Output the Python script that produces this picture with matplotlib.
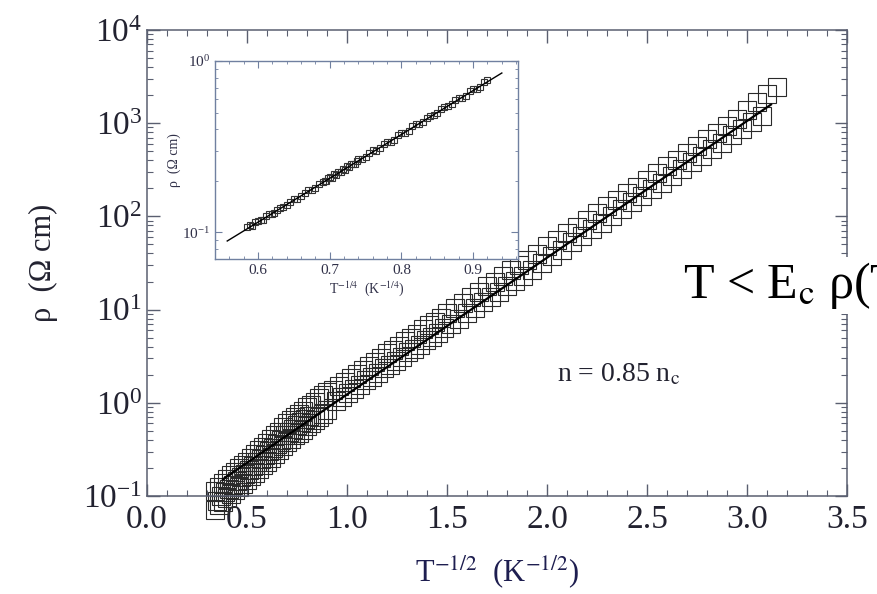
import matplotlib
matplotlib.use("Agg")
import matplotlib.pyplot as plt
from matplotlib.ticker import MultipleLocator, LogLocator, NullFormatter
import numpy as np

plt.rcParams['font.family'] = ['Liberation Serif', 'DejaVu Serif']
plt.rcParams['mathtext.fontset'] = 'stix'

# main panel: rho vs T^-1/2, two overlapping runs of open squares
low_x = [0.34, 0.36, 0.38, 0.40, 0.42, 0.44, 0.46, 0.48, 0.50, 0.52, 0.54, 0.56, 0.58, 0.60, 0.62,
         0.64, 0.66, 0.68, 0.70, 0.72, 0.74, 0.76, 0.78, 0.80, 0.82, 0.84, 0.86, 0.88, 0.90]
low_up = [-0.95, -0.90, -0.86, -0.82, -0.78, -0.74, -0.70, -0.67, -0.63, -0.59, -0.55, -0.51, -0.47, -0.43, -0.39,
          -0.35, -0.31, -0.26, -0.22, -0.19, -0.15, -0.12, -0.09, -0.05, -0.02, 0.01, 0.05, 0.08, 0.12]
low_dn = [-1.15, -1.10, -1.06, -1.02, -0.98, -0.94, -0.90, -0.87, -0.83, -0.79, -0.75, -0.71, -0.67, -0.63, -0.59,
          -0.55, -0.51, -0.46, -0.42, -0.39, -0.35, -0.32, -0.29, -0.25, -0.22, -0.19, -0.15, -0.12, -0.08]
mid_x = [0.35, 0.37, 0.39, 0.41, 0.43, 0.45, 0.47, 0.49, 0.51, 0.53, 0.55, 0.57, 0.59, 0.61, 0.63,
         0.65, 0.67, 0.69, 0.71, 0.73, 0.75, 0.77, 0.79, 0.81]
mid_log = [-1.05, -1.00, -0.96, -0.92, -0.88, -0.84, -0.80, -0.76, -0.72, -0.68, -0.64, -0.60, -0.56, -0.52, -0.48,
           -0.44, -0.40, -0.35, -0.31, -0.28, -0.24, -0.21, -0.17, -0.14]

hi_x_a = [0.93, 0.96, 0.99, 1.02, 1.05, 1.08, 1.11, 1.14, 1.17, 1.20, 1.23, 1.26, 1.29, 1.32, 1.35, 1.38,
          1.41, 1.44, 1.47, 1.50, 1.54, 1.58, 1.62, 1.66, 1.70, 1.74, 1.78, 1.82, 1.86, 1.90, 1.95, 2.00,
          2.05, 2.10, 2.15, 2.20, 2.25, 2.30, 2.35, 2.40, 2.45, 2.50, 2.55, 2.60, 2.65, 2.70, 2.75, 2.80,
          2.85, 2.90, 2.95, 3.00, 3.05, 3.10, 3.15]
hi_log_a = [0.14, 0.18, 0.225, 0.27, 0.31, 0.35, 0.40, 0.44, 0.48, 0.53, 0.57, 0.61, 0.66, 0.70, 0.74, 0.79,
            0.83, 0.87, 0.91, 0.96, 1.02, 1.07, 1.13, 1.19, 1.25, 1.30, 1.36, 1.42, 1.48, 1.53, 1.60, 1.68,
            1.75, 1.82, 1.89, 1.96, 2.04, 2.11, 2.18, 2.25, 2.32, 2.39, 2.47, 2.54, 2.61, 2.68, 2.75, 2.83,
            2.90, 2.97, 3.05, 3.14, 3.23, 3.31, 3.39]

hi_x_b = [0.945, 0.975, 1.005, 1.035, 1.065, 1.095, 1.125, 1.155, 1.185, 1.215, 1.245, 1.275, 1.305, 1.335,
          1.365, 1.395, 1.425, 1.455, 1.485, 1.52, 1.56, 1.60, 1.64, 1.68, 1.72, 1.76, 1.80, 1.84, 1.88,
          1.925, 1.975, 2.025, 2.075, 2.125, 2.175, 2.225, 2.275, 2.325, 2.375, 2.425, 2.475, 2.525, 2.575,
          2.625, 2.675, 2.725, 2.775, 2.825, 2.875, 2.925, 2.975, 3.025, 3.075]
hi_log_b = [0.02, 0.06, 0.11, 0.15, 0.19, 0.24, 0.28, 0.32, 0.37, 0.41, 0.45, 0.49, 0.54, 0.58,
            0.62, 0.67, 0.71, 0.75, 0.80, 0.85, 0.90, 0.96, 1.02, 1.08, 1.13, 1.19, 1.25, 1.31, 1.36,
            1.43, 1.50, 1.57, 1.64, 1.72, 1.79, 1.86, 1.93, 2.00, 2.08, 2.15, 2.22, 2.29, 2.36,
            2.43, 2.51, 2.58, 2.65, 2.72, 2.79, 2.87, 2.94, 3.01, 3.08]

fit_x = [0.38, 3.12]
fit_log = [-0.82, 3.20]

# inset: rho vs T^-1/4
ins_x = [0.585, 0.589, 0.592, 0.596, 0.600, 0.604, 0.607, 0.611, 0.615, 0.619, 0.622, 0.626, 0.630, 0.635,
         0.640, 0.645, 0.650, 0.655, 0.660, 0.665, 0.670, 0.675, 0.680, 0.685, 0.690, 0.693, 0.695, 0.698,
         0.700, 0.703, 0.706, 0.709, 0.712, 0.715, 0.718, 0.721, 0.724, 0.727, 0.730, 0.733, 0.735, 0.738,
         0.740, 0.745, 0.750, 0.755, 0.760, 0.765, 0.770, 0.775, 0.780, 0.785, 0.790, 0.795, 0.800, 0.805,
         0.810, 0.815, 0.820, 0.825, 0.830, 0.835, 0.840, 0.845, 0.850, 0.855, 0.860, 0.865, 0.870, 0.875,
         0.880, 0.885, 0.890, 0.895, 0.900, 0.905, 0.910, 0.915, 0.920]
ins_log = [-0.970, -0.958, -0.965, -0.942, -0.932, -0.928, -0.925, -0.905, -0.895, -0.890, -0.888, -0.870,
           -0.855, -0.852, -0.842, -0.822, -0.805, -0.805, -0.790, -0.768, -0.753, -0.752, -0.740, -0.716,
           -0.703, -0.698, -0.700, -0.685, -0.676, -0.680, -0.661, -0.665, -0.645, -0.650, -0.630, -0.634,
           -0.614, -0.619, -0.600, -0.598, -0.598, -0.585, -0.574, -0.573, -0.560, -0.535, -0.522, -0.524,
           -0.509, -0.484, -0.471, -0.470, -0.458, -0.432, -0.420, -0.420, -0.406, -0.380, -0.369, -0.368,
           -0.355, -0.330, -0.318, -0.316, -0.304, -0.278, -0.266, -0.265, -0.253, -0.226, -0.215, -0.213,
           -0.202, -0.175, -0.164, -0.162, -0.150, -0.124, -0.113]
ins_fit_x = [0.557, 0.94]
ins_fit_log = [-1.05, -0.07]

spine_col = '#5a5f70'
text_col = '#222230'

fig = plt.figure(figsize=(8.77, 5.94), dpi=100)
ax = fig.add_axes([0.1676, 0.165, 0.7982, 0.7845])

sq = dict(ls='none', marker='s', ms=12.5, mfc='none', mec='#2a2a2a', mew=0.8, clip_on=False)
for xs, ls_ in [(low_x, low_dn), (mid_x, mid_log), (low_x, low_up), (hi_x_b, hi_log_b), (hi_x_a, hi_log_a)]:
    ax.plot(xs, 10.0 ** np.array(ls_), **sq)
ax.plot(fit_x, 10.0 ** np.array(fit_log), color='black', lw=1.6, zorder=5)

ax.set_yscale('log')
ax.set_xlim(0, 3.5)
ax.set_ylim(0.1, 1e4)
ax.xaxis.set_major_locator(MultipleLocator(0.5))
ax.xaxis.set_minor_locator(MultipleLocator(0.1))
ax.yaxis.set_major_locator(LogLocator(base=10, numticks=10))
ax.yaxis.set_minor_locator(LogLocator(base=10, subs=np.arange(2, 10), numticks=20))
ax.yaxis.set_minor_formatter(NullFormatter())
ax.xaxis.set_major_formatter(plt.FuncFormatter(lambda v, p: f"{v:.1f}"))
ax.tick_params(which='both', direction='in', top=True, right=True, colors=spine_col,
               labelcolor=text_col, labelsize=24)
ax.tick_params(which='major', length=9, width=1.0)
ax.tick_params(which='minor', length=4, width=0.8)
ax.tick_params(axis='x', pad=6)
for s in ax.spines.values():
    s.set_color(spine_col)
    s.set_linewidth(1.1)

ax.set_xlabel(r'T$^{-1/2}$  (K$^{-1/2}$)', fontsize=22, color='#1e1e50', labelpad=14)
ax.set_ylabel(r'ρ  (Ω cm)', fontsize=22, color=text_col, labelpad=18)
ax.text(2.36, 10 ** 0.30, r'n = 0.85 n$_\mathrm{c}$', fontsize=20, color=text_col,
        ha='center', va='center')

# inset
ins = fig.add_axes([0.2452, 0.564, 0.3454, 0.3333])
ins.set_facecolor('white')
ins.plot(ins_x, 10.0 ** np.array(ins_log), ls='none', marker='s', ms=4, mfc='none',
         mec='#333333', mew=0.8)
ins.plot(ins_fit_x, 10.0 ** np.array(ins_fit_log), color='black', lw=1.0)
ins.set_yscale('log')
ins.set_xlim(0.54, 0.9625)
ins.set_ylim(0.07, 1.0)
ins.xaxis.set_major_locator(MultipleLocator(0.1))
ins.xaxis.set_minor_locator(MultipleLocator(0.02))
ins.yaxis.set_major_locator(LogLocator(base=10, numticks=10))
ins.yaxis.set_minor_locator(LogLocator(base=10, subs=np.arange(2, 10), numticks=20))
ins.yaxis.set_minor_formatter(NullFormatter())
ins.tick_params(which='both', direction='in', top=True, right=True, colors='#7080a0',
                labelcolor='#303048', labelsize=11)
ins.tick_params(which='major', length=5, width=0.8)
ins.tick_params(which='minor', length=2.5, width=0.6)
for s in ins.spines.values():
    s.set_color('#7080a0')
    s.set_linewidth(1.0)
ins.set_xlabel(r'T$^{-1/4}$  (K$^{-1/4}$)', fontsize=10, color='#303048', labelpad=2)
ins.set_ylabel(r'ρ  (Ω cm)', fontsize=10, color='#303048', labelpad=1)

# clipped slide text at the right edge
fig.text(0.779, 0.498, r'T < E$_\mathrm{c}$ ρ(T', fontsize=36, color='black', ha='left', va='baseline',
         bbox=dict(facecolor='white', edgecolor='none', pad=2))

fig.savefig('out.png', dpi=100)
